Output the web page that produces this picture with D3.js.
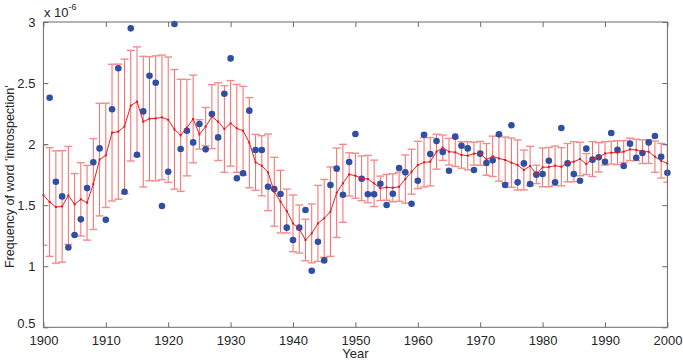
<!DOCTYPE html>
<html>
<head>
<meta charset="utf-8">
<script src="https://d3js.org/d3.v7.min.js"></script>
<style>
  html, body { margin: 0; padding: 0; background: #fff; }
  svg { display: block; font-family: "Liberation Sans", Arial, Helvetica, sans-serif; }
</style>
</head>
<body>
<svg id="chart" width="683" height="361"></svg>
<script>
// ---------- data (values in units of 1e-6) ----------
const lineYears = [1900,1901,1902,1903,1904,1905,1906,1907,1908,1909,1910,1911,1912,1913,1914,1915,1916,1917,1918,1919,1920,1921,1922,1923,1924,1925,1926,1927,1928,1929,1930,1931,1932,1933,1934,1935,1936,1937,1938,1939,1940,1941,1942,1943,1944,1945,1946,1947,1948,1949,1950,1951,1952,1953,1954,1955,1956,1957,1958,1959,1960,1961,1962,1963,1964,1965,1966,1967,1968,1969,1970,1971,1972,1973,1974,1975,1976,1977,1978,1979,1980,1981,1982,1983,1984,1985,1986,1987,1988,1989,1990,1991,1992,1993,1994,1995,1996,1997,1998,1999,2000];

const smoothed = [1.583,1.526,1.485,1.490,1.580,1.507,1.548,1.520,1.673,1.873,
  1.908,2.094,2.102,2.145,2.315,2.348,2.184,2.208,2.211,2.219,
  2.200,2.121,2.072,2.135,2.206,2.080,2.143,2.225,2.184,2.124,
  2.170,2.129,2.110,2.012,1.851,1.823,1.769,1.610,1.529,1.452,
  1.351,1.305,1.215,1.269,1.351,1.392,1.447,1.602,1.679,1.752,
  1.741,1.720,1.714,1.679,1.638,1.646,1.643,1.651,1.714,1.774,
  1.829,1.851,1.856,1.938,1.971,1.938,1.933,1.911,1.905,1.922,
  1.924,1.875,1.900,1.883,1.870,1.848,1.829,1.788,1.821,1.752,
  1.810,1.812,1.823,1.815,1.848,1.856,1.878,1.837,1.878,1.892,
  1.924,1.930,1.930,1.938,1.957,1.952,1.938,1.938,1.897,1.864,
  1.842];

const errorHalf = [0.412,0.445,0.460,0.456,0.401,0.252,0.300,0.306,0.372,0.461,
  0.427,0.560,0.553,0.551,0.453,0.448,0.535,0.508,0.512,0.510,
  0.513,0.490,0.459,0.395,0.359,0.120,0.157,0.262,0.318,0.355,
  0.350,0.360,0.363,0.369,0.229,0.246,0.314,0.282,0.256,0.180,
  0.232,0.197,0.170,0.241,0.311,0.319,0.366,0.366,0.319,0.177,
  0.184,0.183,0.194,0.190,0.100,0.106,0.115,0.119,0.197,0.184,
  0.194,0.202,0.198,0.143,0.104,0.109,0.116,0.108,0.116,0.094,
  0.098,0.130,0.165,0.186,0.188,0.202,0.205,0.163,0.161,0.075,
  0.159,0.161,0.161,0.156,0.157,0.164,0.137,0.086,0.143,0.120,
  0.096,0.093,0.098,0.090,0.092,0.088,0.097,0.096,0.128,0.142,
  0.154];

const dotYears = [1901,1902,1903,1904,1905,1906,1907,1908,1909,1910,1911,1912,1913,1914,1915,1916,1917,1918,1919,1920,1921,1922,1923,1924,1925,1926,1927,1928,1929,1930,1931,1932,1933,1934,1935,1936,1937,1938,1939,1940,1941,1942,1943,1944,1945,1946,1947,1948,1949,1950,1951,1952,1953,1954,1955,1956,1957,1958,1959,1960,1961,1962,1963,1964,1965,1966,1967,1968,1969,1970,1971,1972,1973,1974,1975,1976,1977,1978,1979,1980,1981,1982,1983,1984,1985,1986,1987,1988,1989,1990,1991,1992,1993,1994,1995,1996,1997,1998,1999,2000];

const yearly = [2.380,1.692,1.572,1.154,1.256,1.384,1.640,1.851,1.965,1.381,
  2.285,2.621,1.610,2.948,1.913,2.268,2.560,2.503,1.493,1.774,
  2.984,1.960,2.110,2.014,2.165,1.957,2.247,2.055,2.413,2.702,
  1.720,1.761,2.274,1.952,1.952,1.651,1.632,1.591,1.316,1.215,
  1.316,1.460,0.963,1.201,1.048,1.665,1.799,1.586,1.853,2.083,
  1.717,1.589,1.589,1.676,1.501,1.594,1.804,1.769,1.512,1.700,
  2.077,1.919,2.025,1.935,1.782,2.061,1.987,1.965,1.788,1.922,
  1.845,1.867,2.080,1.665,2.154,1.687,1.842,1.673,1.750,1.755,
  1.864,1.687,2.132,1.842,1.755,1.700,1.963,1.873,1.892,1.856,
  2.091,1.954,1.821,2.004,1.889,1.927,2.014,2.066,1.897,1.766];

const xTicks = [1900,1910,1920,1930,1940,1950,1960,1970,1980,1990,2000];
const yTicks = [0.5,1,1.5,2,2.5,3];
const xTitle = "Year";
const yTitle = "Frequency of word 'introspection'";

// ---------- layout ----------
const svg = d3.select("#chart");
const L = 43.4, R = 667.4, T = 22, B = 327.3;
const x = d3.scaleLinear().domain([1900, 2000]).range([L, R]);
const y = d3.scaleLinear().domain([0.5, 3]).range([B, T]);

const axisColor = "#6b6b6b";
const textColor = "#262626";
const fontSize = 13;

// ---------- error bars ----------
const eb = svg.append("g");
const rows = lineYears.map((yr, i) => ({yr, v: smoothed[i], e: errorHalf[i]}));
const capW = 4;
eb.selectAll("line.stem").data(rows).join("line")
  .attr("x1", d => x(d.yr)).attr("x2", d => x(d.yr))
  .attr("y1", d => y(d.v + d.e)).attr("y2", d => y(d.v - d.e))
  .attr("stroke", "#f26a6a").attr("stroke-width", 1);
eb.selectAll("line.capt").data(rows).join("line")
  .attr("x1", d => Math.max(L, x(d.yr) - capW)).attr("x2", d => Math.min(R, x(d.yr) + capW))
  .attr("y1", d => y(d.v + d.e)).attr("y2", d => y(d.v + d.e))
  .attr("stroke", "#f58c8c").attr("stroke-width", 1.4);
eb.selectAll("line.capb").data(rows).join("line")
  .attr("x1", d => Math.max(L, x(d.yr) - capW)).attr("x2", d => Math.min(R, x(d.yr) + capW))
  .attr("y1", d => y(d.v - d.e)).attr("y2", d => y(d.v - d.e))
  .attr("stroke", "#f58c8c").attr("stroke-width", 1.4);

// ---------- yearly dots ----------
svg.append("g").selectAll("circle").data(dotYears.map((yr, i) => ({yr, v: yearly[i]})))
  .join("circle")
  .attr("cx", d => x(d.yr)).attr("cy", d => y(d.v)).attr("r", 3.3)
  .attr("fill", "#2f4fa3");

// ---------- smoothed line ----------
svg.append("path").datum(rows)
  .attr("d", d3.line().x(d => x(d.yr)).y(d => y(d.v)))
  .attr("fill", "none").attr("stroke", "#ee1c24").attr("stroke-width", 1);
svg.append("g").selectAll("rect").data(rows).join("rect")
  .attr("x", d => x(d.yr) - 1).attr("y", d => y(d.v) - 1)
  .attr("width", 2).attr("height", 2).attr("fill", "#e8141c");

// ---------- axes (MATLAB-like box, inward ticks) ----------
const tl = 5;
const ax = svg.append("g");
ax.append("rect").attr("x", L).attr("y", T).attr("width", R - L).attr("height", B - T)
  .attr("fill", "none").attr("stroke", axisColor).attr("stroke-width", 1);

const bottomAxis = d3.axisBottom(x).tickValues(xTicks).tickSize(-tl).tickFormat(d3.format("d")).tickPadding(8);
const gB = ax.append("g").attr("transform", `translate(0,${B})`).call(bottomAxis);
const topAxis = d3.axisTop(x).tickValues(xTicks).tickSize(-tl).tickFormat("");
const gT = ax.append("g").attr("transform", `translate(0,${T})`).call(topAxis);
const leftAxis = d3.axisLeft(y).tickValues(yTicks).tickSize(-tl).tickFormat(d3.format("~g")).tickPadding(8);
const gL = ax.append("g").attr("transform", `translate(${L},0)`).call(leftAxis);
const rightAxis = d3.axisRight(y).tickValues(yTicks).tickSize(-tl).tickFormat("");
const gR = ax.append("g").attr("transform", `translate(${R},0)`).call(rightAxis);

[gB, gT, gL, gR].forEach(g => {
  g.select(".domain").remove();
  g.selectAll(".tick line").attr("stroke", axisColor);
  g.selectAll("text").attr("fill", textColor).style("font-size", fontSize + "px")
    .style("font-family", "'Liberation Sans', Arial, sans-serif");
});
gL.selectAll(".tick text").filter(d => d === 0.5).attr("dy", "0.05em");

// ---------- exponent label ----------
const ex = svg.append("text").attr("x", 44).attr("y", 17)
  .attr("fill", textColor).style("font-size", fontSize + "px");
ex.append("tspan").text("x 10");
ex.append("tspan").attr("dy", -7).style("font-size", "9px").text("-6");

// ---------- titles ----------
svg.append("text").attr("x", (L + R) / 2).attr("y", 358).attr("text-anchor", "middle")
  .attr("fill", textColor).style("font-size", fontSize + "px").text(xTitle);
svg.append("text").attr("transform", `translate(14,${(T + B) / 2 + 2}) rotate(-90)`)
  .attr("text-anchor", "middle").attr("fill", textColor).style("font-size", "12.5px")
  .text(yTitle);
</script>
</body>
</html>
